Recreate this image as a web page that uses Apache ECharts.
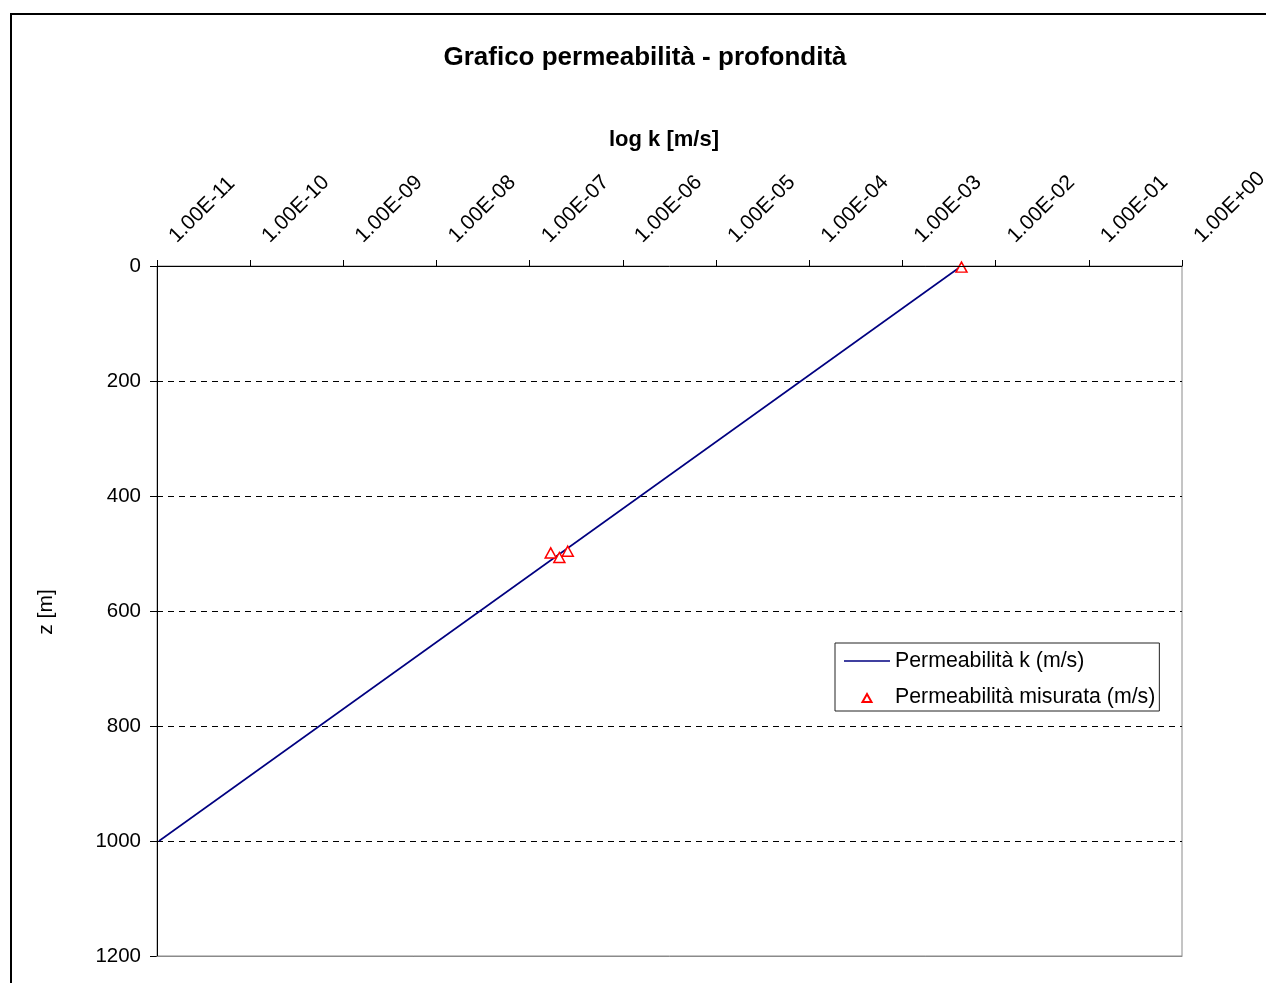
<!DOCTYPE html>
<html>
<head>
<meta charset="utf-8">
<script src="https://cdn.jsdelivr.net/npm/echarts@6/dist/echarts.min.js"></script>
<style>
  html, body { margin: 0; padding: 0; background: #fff; }
  #chart { width: 1266px; height: 983px; }
</style>
</head>
<body>
<div id="chart"></div>
<script>
// Permeability k [m/s] versus depth z [m]
const lineDepth = [1000, 0];
const lineK = [1.05e-11, 4.3e-3];

const measuredDepth = [2, 499, 507, 496];
const measuredK = [4.3e-3, 1.68e-7, 2.08e-7, 2.56e-7];

const kMin = 1e-11;
const kMax = 1;
const depthTicks = [0, 200, 400, 600, 800, 1000, 1200];

const seriesNames = ['Permeabilità k (m/s)', 'Permeabilità misurata (m/s)'];
const titleText = 'Grafico permeabilità - profondità';
const xName = 'log k [m/s]';
const yName = 'z [m]';

const FONT = '"Liberation Sans", Arial, Helvetica, sans-serif';

// Excel-style scientific label: 1.00E-11, 1.00E+00
function sciLabel(v) {
  const parts = Number(v).toExponential(2).split('e');
  const exp = parseInt(parts[1], 10);
  const sign = exp < 0 ? '-' : '+';
  return parts[0] + 'E' + sign + String(Math.abs(exp)).padStart(2, '0');
}

const chart = echarts.init(document.getElementById('chart'), null, { renderer: 'canvas' });

const option = {
  animation: false,
  backgroundColor: '#ffffff',
  textStyle: { fontFamily: FONT, color: '#000' },
  grid: {
    left: 157, right: 84, top: 266, bottom: 27,
    outerBoundsMode: 'none',
    containLabel: false,
    show: true, borderColor: '#8a8a8a', borderWidth: 1, backgroundColor: 'transparent'
  },
  graphic: [
    {
      type: 'rect', silent: true,
      shape: { x: 11, y: 14, width: 1400, height: 1100 },
      style: { fill: 'none', stroke: '#000', lineWidth: 2 }
    },
    {
      type: 'text', x: 645, y: 58,
      style: { text: titleText, font: 'bold 26px ' + FONT, fill: '#000',
               textAlign: 'center', textVerticalAlign: 'middle' }
    },
    {
      type: 'text', x: 664, y: 140,
      style: { text: xName, font: 'bold 22px ' + FONT, fill: '#000',
               textAlign: 'center', textVerticalAlign: 'middle' }
    },
    {
      type: 'text', x: 46, y: 612, rotation: Math.PI / 2,
      style: { text: yName, font: '21px ' + FONT, fill: '#000',
               textAlign: 'center', textVerticalAlign: 'middle' }
    }
  ],
  legend: {
    orient: 'vertical',
    left: 835, top: 643,
    padding: [7, 4, 3, 8],
    itemWidth: 46, itemHeight: 12, itemGap: 14, itemTextGap: 2,
    borderColor: '#222', borderWidth: 1, backgroundColor: '#fff',
    textStyle: { fontFamily: FONT, fontSize: 21.3, color: '#000', lineHeight: 22 },
    data: [
      // plain line sample
      { name: seriesNames[0], icon: 'path://M0,0H46V1.6H0Z' },
      // small hollow triangle centred in the 46x12 icon box
      { name: seriesNames[1], icon: 'path://M0,0M46,12M18.5,11L23,3L27.5,11Z' }
    ]
  },
  xAxis: [
    {
      type: 'log', logBase: 10, position: 'top',
      min: kMin, max: kMax, interval: 1,
      axisLine: { show: true, lineStyle: { color: '#000', width: 1 } },
      axisTick: { show: true, inside: false, length: 6, lineStyle: { color: '#000' } },
      minorTick: { show: false },
      splitLine: { show: false },
      axisLabel: {
        rotate: 45, margin: 11, padding: [0, 0, 0, 22],
        fontFamily: FONT, fontSize: 21, color: '#000',
        hideOverlap: false,
        formatter: sciLabel
      },
      z: 4
    },
    {
      // bottom edge of the plot frame
      type: 'log', logBase: 10, position: 'bottom',
      min: kMin, max: kMax,
      axisLine: { show: true, lineStyle: { color: '#8a8a8a', width: 1 } },
      axisTick: { show: false }, axisLabel: { show: false }, splitLine: { show: false },
      z: 5
    }
  ],
  yAxis: {
    type: 'value', inverse: true,
    min: depthTicks[0], max: depthTicks[depthTicks.length - 1], interval: 200,
    axisLine: { show: true, onZero: false, lineStyle: { color: '#000', width: 1 } },
    axisTick: { show: true, length: 7, lineStyle: { color: '#000' } },
    splitLine: { show: true, lineStyle: { color: '#000', width: 1, type: [6, 5] } },
    axisLabel: { margin: 16, fontFamily: FONT, fontSize: 20.5, color: '#000',
                 formatter: v => String(v) }
  },
  series: [
    {
      name: seriesNames[0],
      type: 'line',
      xAxisIndex: 0,
      data: lineK.map((k, i) => [k, lineDepth[i]]),
      symbol: 'none',
      lineStyle: { color: '#000080', width: 1.6 },
      itemStyle: { color: '#000080' },
      z: 2
    },
    {
      name: seriesNames[1],
      type: 'scatter',
      xAxisIndex: 0,
      data: measuredK.map((k, i) => [k, measuredDepth[i]]),
      symbol: 'triangle',
      symbolSize: [11, 10],
      itemStyle: { color: '#ffffff', borderColor: '#ff0000', borderWidth: 1.5, opacity: 1 },
      z: 3
    }
  ]
};

chart.setOption(option);
</script>
</body>
</html>
